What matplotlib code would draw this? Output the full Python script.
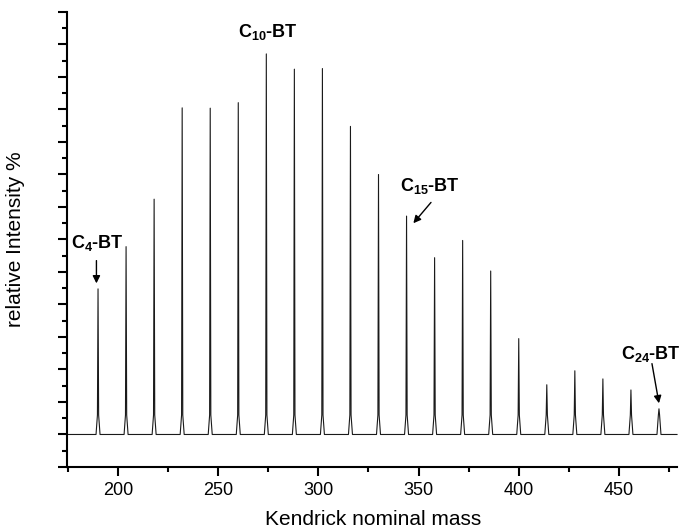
import numpy as np
import matplotlib
matplotlib.use('Agg')
import matplotlib.pyplot as plt
from matplotlib.ticker import MultipleLocator

plt.rcParams['font.family'] = ['Liberation Sans', 'DejaVu Sans']
plt.rcParams['mathtext.fontset'] = 'custom'
plt.rcParams['mathtext.rm'] = 'Liberation Sans'
plt.rcParams['mathtext.bf'] = 'Liberation Sans:bold'

# Kendrick nominal masses of the CnH2n-BT series (C4 .. C24)
masses = [190, 204, 218, 232, 246, 260, 274, 288, 302, 316, 330,
          344, 358, 372, 386, 400, 414, 428, 442, 456, 470]
heights = [44.8, 57.8, 72.4, 100.5, 100.4, 102.1, 117.1, 112.4, 112.6, 94.8, 80.0,
           67.2, 54.4, 59.7, 50.3, 29.5, 15.3, 19.6, 17.1, 13.7, 7.9]

labels = ['C$_{\\mathbf{4}}$-BT', 'C$_{\\mathbf{10}}$-BT', 'C$_{\\mathbf{15}}$-BT', 'C$_{\\mathbf{24}}$-BT']
label_pos = [(189.5, 58.8), (274.9, 123.7), (355.7, 76.6), (466.0, 24.9)]
arrows = [((189.2, 53.5), (189.2, 46.5)),
          None,
          ((356.2, 71.4), (347.4, 65.0)),
          ((466.5, 21.8), (470.0, 9.6))]

x_min, x_max = 174.5, 479.0

# build the spectrum trace: flat baseline with a narrow peak at every mass
xs = [x_min]
ys = [0.0]
for m, h in zip(masses, heights):
    xs += [m - 1.0, m - 0.3, m, m + 0.3, m + 1.0]
    ys += [0.0, min(h, 6.0), h, min(h, 6.0), 0.0]
xs.append(x_max)
ys.append(0.0)

fig = plt.figure(figsize=(6.8, 5.3), dpi=100)
ax = fig.add_axes([0.0985, 0.1189, 0.8971, 0.8585])

ax.plot(xs, ys, color='#1a1a1a', lw=0.8, clip_on=False)

ax.set_xlim(x_min, x_max)
ax.set_ylim(-10, 130)

for side in ['top', 'right']:
    ax.spines[side].set_visible(False)
for side in ['left', 'bottom']:
    ax.spines[side].set_linewidth(1.5)

ax.xaxis.set_major_locator(MultipleLocator(50))
ax.xaxis.set_minor_locator(MultipleLocator(25))
ax.yaxis.set_major_locator(MultipleLocator(10))
ax.yaxis.set_minor_locator(MultipleLocator(5))
ax.tick_params(axis='both', which='major', direction='out', length=6.5, width=1.5,
               labelsize=13, pad=4)
ax.tick_params(axis='both', which='minor', direction='out', length=3.5, width=1.5)
ax.tick_params(axis='y', which='both', labelleft=False)

ax.set_xlabel('Kendrick nominal mass', fontsize=15)
ax.set_ylabel('relative Intensity %', fontsize=15)
ax.xaxis.set_label_coords(0.502, -0.094)
ax.yaxis.set_label_coords(-0.069, 0.5)

for txt, (tx, ty), arr in zip(labels, label_pos, arrows):
    ax.text(tx, ty, txt, fontsize=13, fontweight='bold', ha='center', va='center',
            clip_on=False)
    if arr is not None:
        ax.annotate('', xy=arr[1], xytext=arr[0],
                    arrowprops=dict(arrowstyle='-|>', color='black', lw=1.0,
                                    mutation_scale=11, shrinkA=0, shrinkB=0))

fig.savefig('out.png', dpi=100)
